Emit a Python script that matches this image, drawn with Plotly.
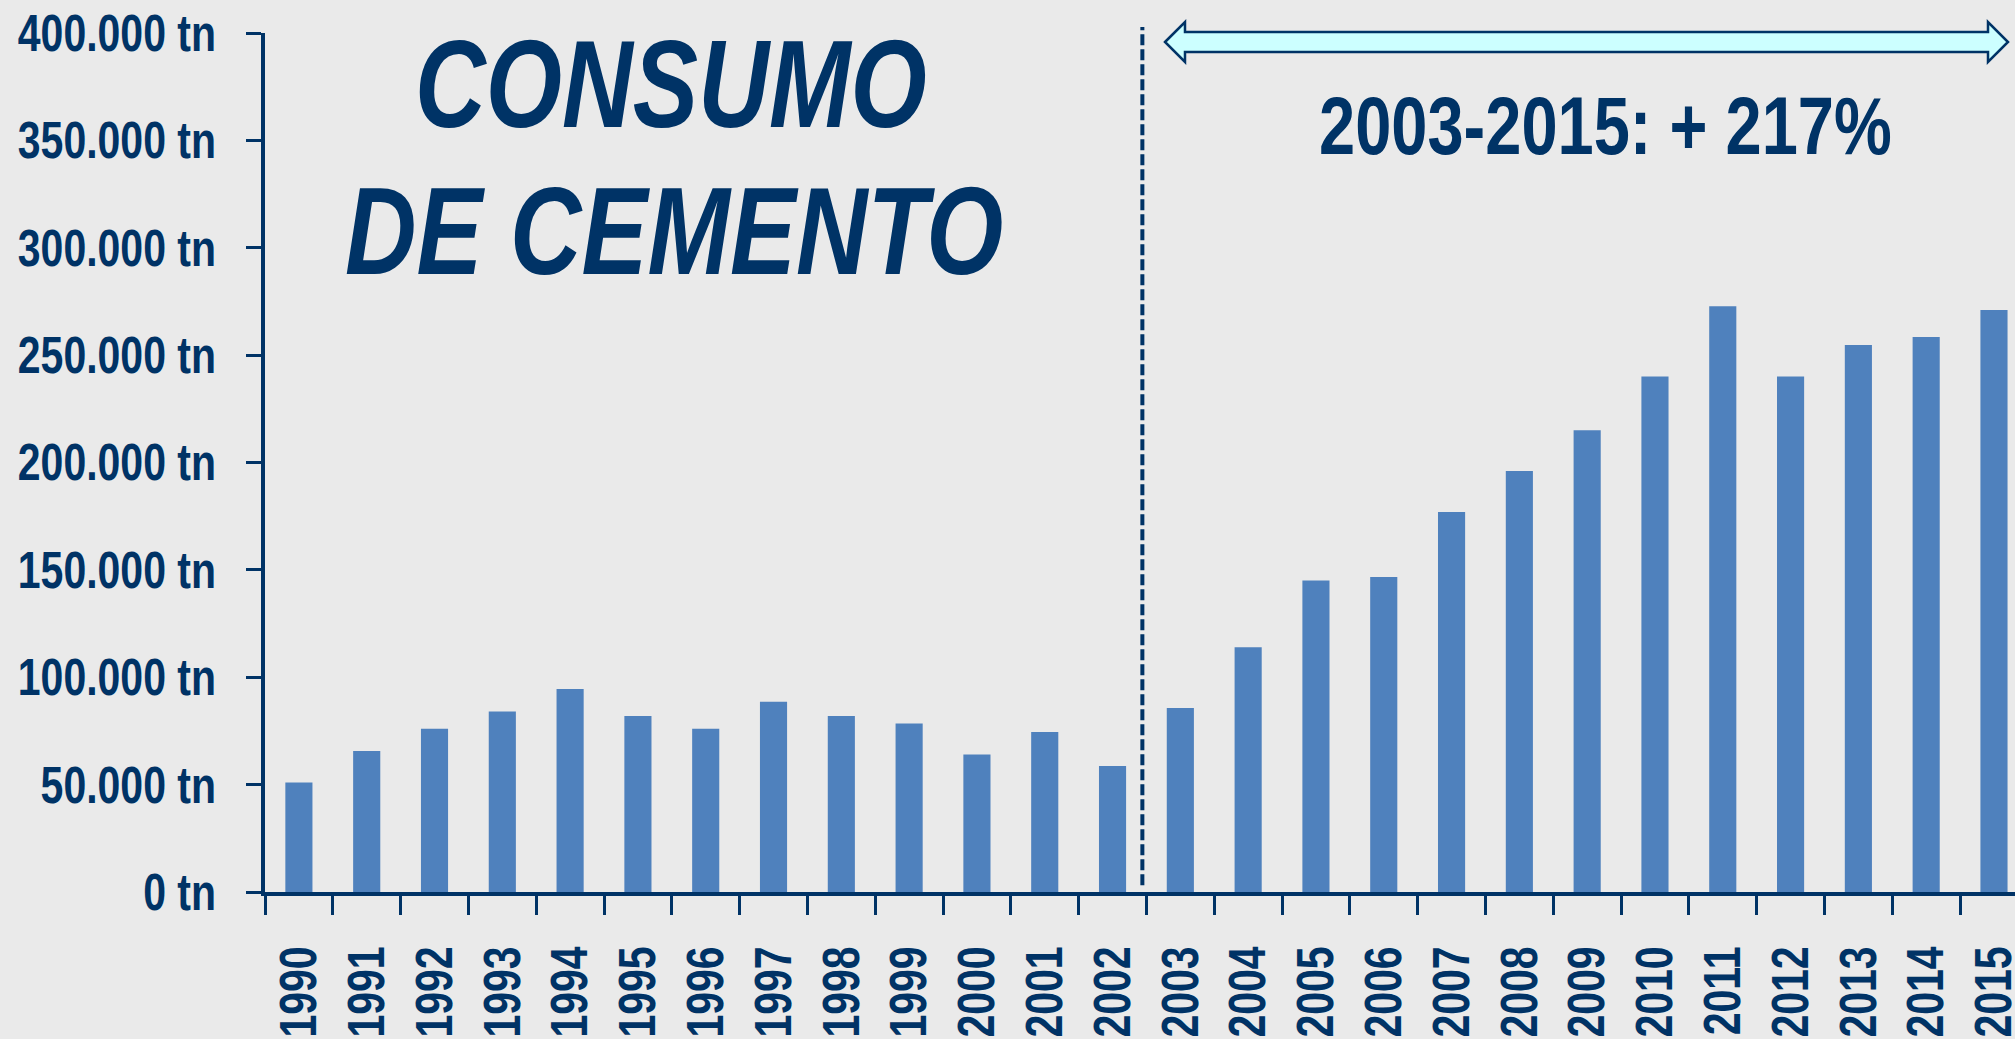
import plotly.graph_objects as go

years = [str(y) for y in range(1990, 2016)]
consumo = [51000, 65600, 76000, 84000, 94500, 82000, 76000, 88600, 82000, 78500,
           64000, 74500, 58700, 85700, 114000, 145000, 146700, 177000, 196000, 215000,
           240000, 272800, 240000, 254700, 258400, 271000]
ytick_vals = [0, 50000, 100000, 150000, 200000, 250000, 300000, 350000, 400000]
ytick_text = ["0 tn", "50.000 tn", "100.000 tn", "150.000 tn", "200.000 tn",
              "250.000 tn", "300.000 tn", "350.000 tn", "400.000 tn"]

NAVY = "#003366"
BG = "#EAEAEA"
FONT = "Liberation Sans, Arial, sans-serif"

W, H = 2015, 1039
L, R, T, B = 265, 0, 33, 147
PW, PH = W - L - R, H - T - B


def px(x):
    return (x - L) / PW


def py(y):
    return (H - B - y) / PH


fig = go.Figure(go.Bar(x=years, y=consumo, marker=dict(color="#4F81BD", line=dict(width=0))))

# double arrow (pixel positions converted to paper)
lt, rt = 1165, 2008
hb = 20
yc, sh, hh = 42, 10, 20
pts = [(lt, yc), (lt + hb, yc - hh), (lt + hb, yc - sh), (rt - hb, yc - sh), (rt - hb, yc - hh),
       (rt, yc), (rt - hb, yc + hh), (rt - hb, yc + sh), (lt + hb, yc + sh), (lt + hb, yc + hh)]
path = "M " + " L ".join(f"{px(a):.5f},{py(b):.5f}" for a, b in pts) + " Z"

fig.update_layout(
    width=W, height=H,
    margin=dict(l=L, r=R, t=T, b=B, pad=0, autoexpand=False),
    paper_bgcolor=BG, plot_bgcolor=BG,
    bargap=0.6,
    showlegend=False,
    font=dict(family=FONT, color=NAVY),
    xaxis=dict(
        type="category", range=[-0.5, 25.31], automargin=False,
        showline=True, linecolor=NAVY, linewidth=4,
        ticks="outside", tickson="boundaries", ticklen=19, tickwidth=3, tickcolor=NAVY,
        tickangle=-90, tickfont=dict(size=41, family=FONT, color=NAVY, weight="bold"),
        ticklabelstandoff=34, showgrid=False, zeroline=False,
    ),
    yaxis=dict(
        range=[0, 400000], automargin=False,
        showline=True, linecolor=NAVY, linewidth=3.5,
        tickvals=ytick_vals, ticktext=ytick_text,
        ticks="outside", ticklen=15, tickwidth=3, tickcolor=NAVY,
        tickfont=dict(size=41, family=FONT, color=NAVY, weight="bold"),
        ticklabelstandoff=22, showgrid=False, zeroline=False,
    ),
    shapes=[
        dict(type="line", xref="x", yref="paper", x0=12.44, x1=12.44, y0=0.008, y1=py(27),
             line=dict(color=NAVY, width=4, dash="11px,4px")),
        dict(type="path", xref="paper", yref="paper", path=path,
             fillcolor="#CCFFFF", line=dict(color=NAVY, width=2.5)),
    ],
    annotations=[
        dict(text="<b><i>CONSUMO</i></b>", xref="paper", yref="paper", x=px(671), y=py(84),
             xanchor="center", yanchor="middle", showarrow=False,
             font=dict(size=98, family=FONT, color=NAVY)),
        dict(text="<b><i>DE CEMENTO</i></b>", xref="paper", yref="paper", x=px(674), y=py(230),
             xanchor="center", yanchor="middle", showarrow=False,
             font=dict(size=99, family=FONT, color=NAVY)),
        dict(text="<b>2003-2015: + 217%</b>", xref="paper", yref="paper", x=px(1605), y=py(125),
             xanchor="center", yanchor="middle", showarrow=False,
             font=dict(size=65, family=FONT, color=NAVY)),
    ],
)

# Remove the page's default body margin, and emulate the reference's condensed
# typeface by stretching glyph height.
post = """
document.body.style.margin = '0';
document.body.style.overflow = 'hidden';
var gd = document.getElementById('{plot_id}');
function stretch(sel, s, mode){
  gd.querySelectorAll(sel).forEach(function(t){
    if (t.dataset.stretched) return;
    var b = t.getBBox();
    var cx = (mode === 'right') ? b.x + b.width : b.x + b.width / 2;
    var cy = b.y + b.height / 2;
    var orig = t.getAttribute('transform') || '';
    t.setAttribute('transform', orig + ' translate(' + cx + ',' + cy + ') scale(1,' + s + ') translate(' + (-cx) + ',' + (-cy) + ')');
    t.dataset.stretched = '1';
  });
}
stretch('.annotation-text', 1.26, 'center');
stretch('.ytick text', 1.26, 'right');
stretch('.xtick text', 1.28, 'center');
"""

fig.write_html("out.html", post_script=post, config={"displayModeBar": False})
